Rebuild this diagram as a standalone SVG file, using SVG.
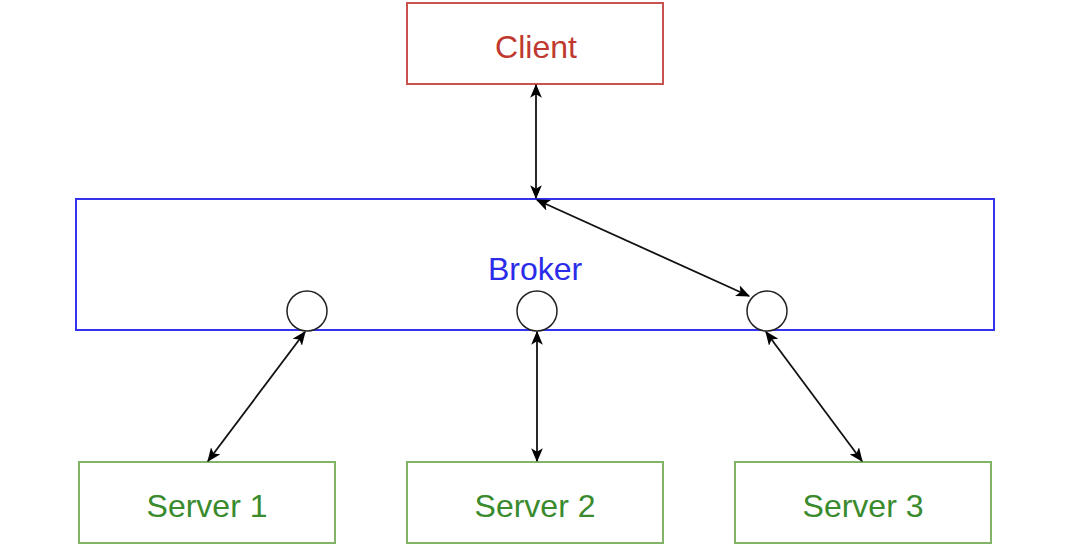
<svg xmlns="http://www.w3.org/2000/svg" width="1080" height="547" viewBox="0 0 1080 547">
  <defs>
    <marker id="arr" viewBox="0 0 12 10" refX="11" refY="5" markerWidth="14" markerHeight="12" markerUnits="userSpaceOnUse" orient="auto-start-reverse">
      <path d="M0,0 L12,5 L0,10 L3,5 Z" fill="#000"/>
    </marker>
  </defs>
  <style>
    .lbl { font-family: "Liberation Sans", Arial, sans-serif; font-size: 32px; text-anchor: middle; }
    .conn { stroke: #111; stroke-width: 1.8; fill: none; marker-start: url(#arr); marker-end: url(#arr); }
    .srv rect { fill: #fff; stroke: #82b366; stroke-width: 2; }
    .srv text { fill: #3a8a2e; }
    .port { fill: #fff; stroke: #222; stroke-width: 1.5; }
  </style>
  <rect width="1080" height="547" fill="#fff"/>
  <g id="client">
    <rect x="407" y="3" width="256" height="81" fill="#fff" stroke="#c8524d" stroke-width="2"/>
    <text class="lbl" x="536" y="58" fill="#c0392f">Client</text>
  </g>
  <g id="broker">
    <rect x="76" y="199" width="918" height="131" fill="#fff" stroke="#3333ee" stroke-width="2"/>
    <text class="lbl" x="535" y="280" fill="#2b2bea">Broker</text>
    <circle class="port" cx="307" cy="311" r="20"/>
    <circle class="port" cx="537" cy="311" r="20"/>
    <circle class="port" cx="767" cy="311" r="20"/>
  </g>
  <g id="server1" class="srv">
    <rect x="79" y="462" width="256" height="81"/>
    <text class="lbl" x="207" y="517">Server 1</text>
  </g>
  <g id="server2" class="srv">
    <rect x="407" y="462" width="256" height="81"/>
    <text class="lbl" x="535" y="517">Server 2</text>
  </g>
  <g id="server3" class="srv">
    <rect x="735" y="462" width="256" height="81"/>
    <text class="lbl" x="863" y="517">Server 3</text>
  </g>
  <g id="connectors">
    <line class="conn" x1="536" y1="85" x2="536" y2="198"/>
    <line class="conn" x1="537" y1="200" x2="749" y2="296"/>
    <line class="conn" x1="305" y1="332" x2="208" y2="461"/>
    <line class="conn" x1="537" y1="332" x2="537" y2="461"/>
    <line class="conn" x1="766" y1="332" x2="862" y2="461"/>
  </g>
</svg>
